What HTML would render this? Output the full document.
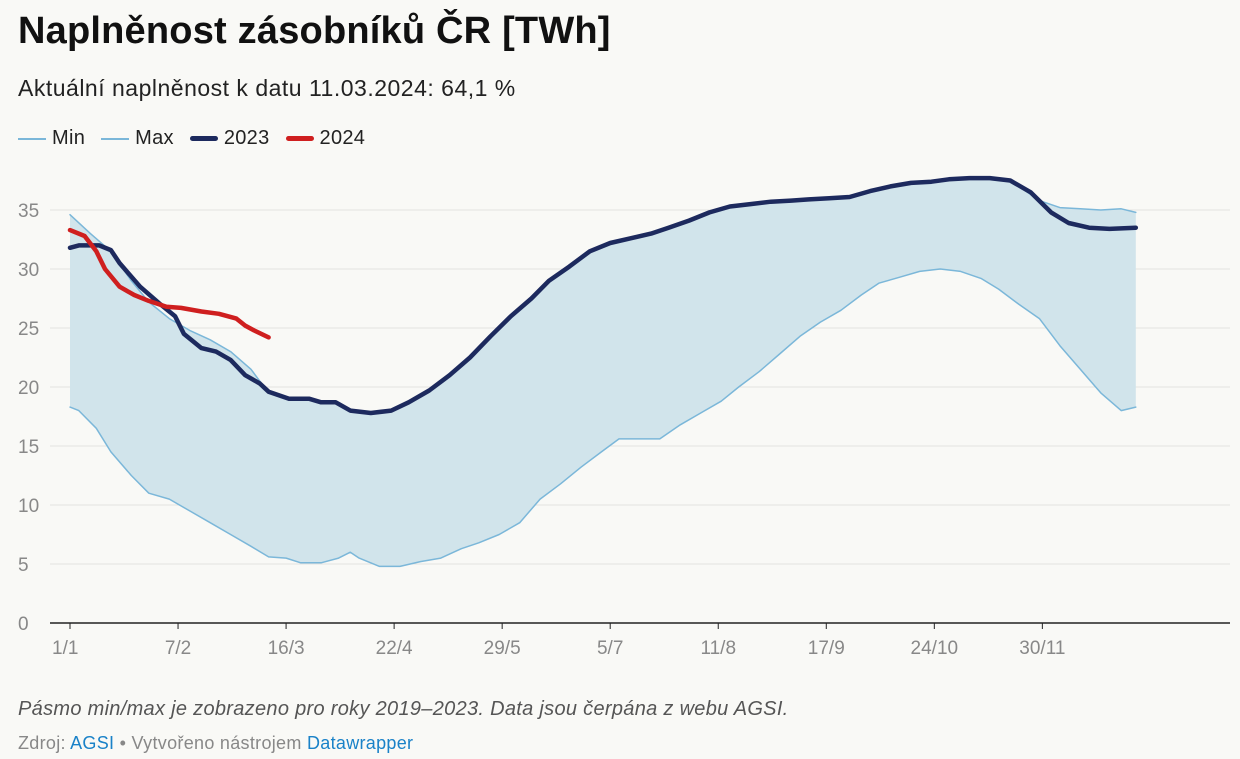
<!DOCTYPE html>
<html><head><meta charset="utf-8">
<style>
body{margin:0;background:#f9f9f6;font-family:"Liberation Sans",sans-serif;width:1240px;height:759px;overflow:hidden;position:relative}
.t{position:absolute;left:18px;top:10px;font-size:38px;font-weight:bold;color:#111;letter-spacing:0.2px}
.s{position:absolute;left:18px;top:75px;font-size:23px;color:#222;letter-spacing:0.5px}
.lg{position:absolute;top:127px;left:18px;font-size:20px;color:#222;display:flex;gap:16px;align-items:center;letter-spacing:0.3px}
.lg span{display:flex;align-items:center;gap:6px}
.lg i{display:inline-block;width:28px}
.n{position:absolute;left:18px;top:698px;font-size:20px;font-style:italic;color:#555;letter-spacing:0.3px}
.z{position:absolute;left:18px;top:733px;font-size:18px;color:#888;letter-spacing:0.3px}
.z a{color:#1a82c8;text-decoration:none}
</style></head><body>
<div class="t">Naplněnost zásobníků ČR [TWh]</div>
<div class="s">Aktuální naplněnost k datu 11.03.2024: 64,1 %</div>
<div class="lg">
<span><i style="border-top:2px solid #7bb7d9"></i>Min</span>
<span><i style="border-top:2px solid #7bb7d9"></i>Max</span>
<span><i style="border-top:5px solid #1d2a5e;border-radius:3px"></i>2023</span>
<span><i style="border-top:5px solid #cf1f1f;border-radius:3px"></i>2024</span>
</div>
<svg id="c" width="1240" height="759" style="position:absolute;left:0;top:0"></svg>
<div class="n">Pásmo min/max je zobrazeno pro roky 2019–2023. Data jsou čerpána z webu AGSI.</div>
<div class="z">Zdroj: <a>AGSI</a> • Vytvořeno nástrojem <a>Datawrapper</a></div>
<script>
const yTicks=[0,5,10,15,20,25,30,35];
const xTickLabels=["1/1","7/2","16/3","22/4","29/5","5/7","11/8","17/9","24/10","30/11"];
const xTickDays=[0,37,74,111,148,185,222,259,296,333];
const minDays=[0,3,9,14,21,27,34,41,48,55,62,68,74,79,86,92,96,99,106,113,120,127,134,140,147,154,161,168,175,182,188,195,202,209,216,223,229,236,243,250,257,264,271,277,284,291,298,305,312,318,325,332,339,346,353,360,365];
const minVals=[18.3,18,16.5,14.5,12.5,11,10.5,9.5,8.5,7.5,6.5,5.6,5.5,5.1,5.1,5.5,6,5.5,4.8,4.8,5.2,5.5,6.3,6.8,7.5,8.5,10.5,11.8,13.2,14.5,15.6,15.6,15.6,16.8,17.8,18.8,20,21.3,22.8,24.3,25.5,26.5,27.8,28.8,29.3,29.8,30,29.8,29.2,28.3,27,25.8,23.5,21.5,19.5,18,18.3];
const d23Days=[0,3,10,14,17,24,31,36,39,45,50,55,60,65,68,75,82,86,91,96,103,110,116,123,130,137,144,151,158,164,171,178,185,192,199,205,212,219,226,233,240,247,253,260,267,274,281,288,295,301,308,315,322,329,336,342,349,356,365];
const d23Vals=[31.8,32,32,31.6,30.5,28.5,27,26,24.5,23.3,23,22.3,21,20.3,19.6,19,19,18.7,18.7,18,17.8,18,18.7,19.7,21,22.5,24.3,26,27.5,29,30.2,31.5,32.2,32.6,33,33.5,34.1,34.8,35.3,35.5,35.7,35.8,35.9,36,36.1,36.6,37,37.3,37.4,37.6,37.7,37.7,37.5,36.5,34.8,33.9,33.5,33.4,33.5];
const maxDays=[0,7,14,21,27,34,41,48,55,62,68,75,82,86,91,96,103,110,116,123,130,137,144,151,158,164,171,178,185,192,199,205,212,219,226,233,240,247,253,260,267,274,281,288,295,301,308,315,322,325,332,339,346,353,360,365];
const maxVals=[34.6,33,31.5,29,27.2,25.8,24.8,24,23,21.5,19.5,19,19,18.7,18.7,18,17.8,18,18.7,19.7,21,22.5,24.3,26,27.5,29,30.2,31.5,32.2,32.6,33,33.5,34.1,34.8,35.3,35.5,35.7,35.8,35.9,36,36.1,36.6,37,37.3,37.4,37.6,37.7,37.7,37.5,37,35.8,35.2,35.1,35,35.1,34.8];
const d24Days=[0,5,9,12,17,22,27,33,38,45,51,57,60,63,68];
const d24Vals=[33.3,32.8,31.5,30,28.5,27.8,27.3,26.8,26.7,26.4,26.2,25.8,25.2,24.8,24.2];
const X=d=>70+d*2.92, Y=v=>623-v*11.8;
const svg=document.getElementById('c'),NS='http://www.w3.org/2000/svg';
function mk(t,a){const e=document.createElementNS(NS,t);for(const k in a)e.setAttribute(k,a[k]);svg.appendChild(e);return e;}
yTicks.forEach(v=>{
 const l=mk('line',{x1:50,x2:1230,y1:Y(v),y2:Y(v),stroke:v?'#e2e2e0':'#222','stroke-width':v?1:1.5});
 
 
 const t=mk('text',{x:18,y:Y(v)+7,'font-size':19,fill:'#888','font-family':'Liberation Sans'});t.textContent=v;
 
 
});
xTickLabels.forEach((s,i)=>{
 const x=X(xTickDays[i]);
 mk('line',{x1:x,x2:x,y1:623,y2:629,stroke:'#222'});
 const t=mk('text',{x:i?x:52,y:654,'font-size':19,fill:'#888','text-anchor':i?'middle':'start','font-family':'Liberation Sans'});t.textContent=s;
 
 
});
const pts=(ds,vs)=>ds.map((d,i)=>X(d).toFixed(1)+','+Y(vs[i]).toFixed(1));
const band=mk('polygon',{points:pts(maxDays,maxVals).concat(pts(minDays,minVals).reverse()).join(' '),fill:'#d1e4eb'});


const lines=[[minDays,minVals,'#7bb7d9',1.5,'min-line'],[maxDays,maxVals,'#7bb7d9',1.5,'max-line'],[d23Days,d23Vals,'#1d2a5e',4.5,'line-2023'],[d24Days,d24Vals,'#cf1f1f',4.5,'line-2024']];
lines.forEach(([d,v,c,w,n])=>{
 const p=mk('polyline',{points:pts(d,v).join(' '),fill:'none',stroke:c,'stroke-width':w,'stroke-linejoin':'round','stroke-linecap':'round'});
 
 
});
</script>
</body></html>
